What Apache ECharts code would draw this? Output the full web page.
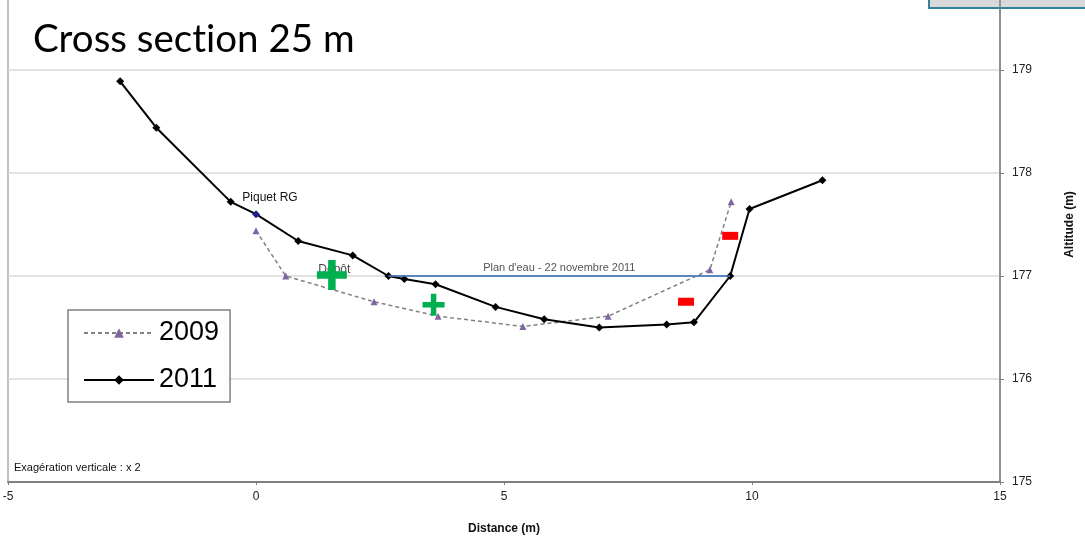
<!DOCTYPE html>
<html>
<head>
<meta charset="utf-8">
<script src="https://cdn.jsdelivr.net/npm/echarts@6/dist/echarts.min.js"></script>
<style>
  html, body { margin: 0; padding: 0; background: #fff; }
  #main { width: 1085px; height: 541px; }
</style>
</head>
<body>
<div id="main"></div>
<script>
// profil 2009 (distance m, altitude m)
var dist2009 = [0, 0.60, 2.38, 3.67, 5.38, 7.10, 9.15, 9.58];
var alt2009 = [177.44, 177.00, 176.75, 176.61, 176.51, 176.61, 177.06, 177.72];
// profil 2011
var dist2011 = [-2.74, -2.01, -0.51, 0, 0.85, 1.95, 2.67, 2.99, 3.62, 4.83, 5.81, 6.92, 8.28, 8.83, 9.56, 9.95, 11.42];
var alt2011 = [178.89, 178.44, 177.72, 177.60, 177.34, 177.20, 177.00, 176.97, 176.92, 176.70, 176.58, 176.50, 176.53, 176.55, 177.00, 177.65, 177.93];
var piquetIndex = 3; // Piquet RG
// plan d'eau
var waterLevel = 177.0;
var waterFrom = 2.67;
var waterTo = 9.56;
// dépôt (+) / érosion (-)
var depotPts = [[1.53, 177.01], [3.58, 176.72]];
var erosionPts = [[9.56, 177.39], [8.67, 176.75]];
var depotLabel = [1.58, 177.06];

var xTicks = { min: -5, max: 15, step: 5 };
var yTicks = { min: 175, max: 180, step: 1 };

function zip(xs, ys) {
    var res = [];
    for (var i = 0; i < xs.length; i++) res.push([xs[i], ys[i]]);
    return res;
}

var myChart = echarts.init(document.getElementById('main'));

var data2011 = zip(dist2011, alt2011).map(function (p, i) {
    if (i !== piquetIndex) return p;
    return {
        value: p,
        itemStyle: { color: '#1f1f8f' },
        label: {
            show: true, position: 'top', offset: [14, -2],
            formatter: 'Piquet RG', color: '#111', fontSize: 12,
            fontFamily: 'Liberation Sans'
        }
    };
});

var option = {
    animation: false,
    backgroundColor: '#fff',
    textStyle: { fontFamily: 'Liberation Sans' },
    grid: {
        left: 8, right: 85, top: -33, bottom: 59,
        outerBoundsMode: 'none',
        show: true, borderColor: '#808080', borderWidth: 1
    },
    legend: {
        orient: 'vertical',
        left: 68, top: 310,
        data: ['2009', '2011'],
        backgroundColor: '#fff',
        borderColor: '#808080', borderWidth: 1.5,
        padding: [8, 11, 7, 15],
        itemGap: 17,
        itemWidth: 70, itemHeight: 12,
        textStyle: { fontSize: 27, color: '#000', lineHeight: 30, fontFamily: 'Liberation Sans' }
    },
    graphic: [
        {
            type: 'text', left: 33, top: 20,
            style: { text: 'Cross sect\u200Cion 25 m', fontSize: 38.5, fill: '#000', fontFamily: 'Lato' }
        },
        {
            type: 'text', left: 14, top: 462,
            style: { text: 'Exagération verticale : x 2', fontSize: 11, fill: '#111', fontFamily: 'Liberation Sans' }
        },
        {
            type: 'rect', shape: { x: 929, y: -10, width: 170, height: 18 },
            style: { fill: '#d9d9d9', stroke: '#31849b', lineWidth: 2 }
        }
    ],
    xAxis: {
        type: 'value',
        min: xTicks.min, max: xTicks.max, interval: xTicks.step,
        name: 'Distance (m)', nameLocation: 'middle', nameGap: 41,
        nameTextStyle: { fontWeight: 'bold', fontSize: 12, color: '#111' },
        axisLine: { onZero: false, lineStyle: { color: '#808080', width: 2 } },
        axisTick: { show: true, length: 3, lineStyle: { color: '#808080' } },
        axisLabel: { fontSize: 12, color: '#222', margin: 9 },
        splitLine: { show: false }
    },
    yAxis: {
        type: 'value', position: 'right',
        min: yTicks.min, max: yTicks.max, interval: yTicks.step,
        name: 'Altitude (m)', nameLocation: 'middle', nameGap: 64, nameRotate: 90,
        nameTextStyle: { fontWeight: 'bold', fontSize: 12, color: '#111' },
        axisLine: { show: true, onZero: false, lineStyle: { color: '#808080', width: 1.5 } },
        axisTick: { show: true, length: 4, lineStyle: { color: '#808080' } },
        axisLabel: { fontSize: 12, color: '#222', margin: 12 },
        splitLine: { show: true, lineStyle: { color: '#d9d9d9', width: 1.5 } }
    },
    series: [
        {
            name: 'Plan d\'eau',
            type: 'line',
            data: [[waterFrom, waterLevel], [waterTo, waterLevel]],
            showSymbol: false,
            lineStyle: { color: '#4f81bd', width: 1.5 },
            markLine: {
                silent: true, symbol: 'none',
                lineStyle: { color: '#4f81bd', width: 1.5, type: 'solid' },
                label: {
                    show: true, position: 'middle', formatter: 'Plan d\'eau - 22 novembre 2011',
                    color: '#555', fontSize: 11, distance: 3
                },
                data: [[{ coord: [waterFrom, waterLevel] }, { coord: [waterTo, waterLevel] }]]
            },
            z: 1
        },
        {
            name: '2009',
            type: 'line',
            data: zip(dist2009, alt2009),
            symbol: 'triangle', symbolSize: 7,
            itemStyle: { color: '#8064a2' },
            lineStyle: { color: '#808080', width: 1.5, type: [4, 3] },
            z: 2
        },
        {
            name: '2011',
            type: 'line',
            data: data2011,
            symbol: 'diamond', symbolSize: 8,
            itemStyle: { color: '#000' },
            lineStyle: { color: '#000', width: 2 },
            z: 3
        },
        {
            name: 'notes',
            type: 'scatter',
            data: [depotLabel],
            symbolSize: 0,
            label: { show: true, position: 'inside', formatter: 'Dépôt', fontSize: 12, color: '#111' },
            z: 4
        },
        {
            name: 'depot',
            type: 'scatter',
            data: depotPts,
            symbol: 'path://M3,0H5V3H8V5H5V8H3V5H0V3H3Z',
            symbolSize: function (v, p) { return p.dataIndex === 0 ? 30 : 22; },
            itemStyle: { color: '#00b050', opacity: 1 },
            z: 5
        },
        {
            name: 'erosion',
            type: 'scatter',
            data: erosionPts,
            symbol: 'rect', symbolSize: [16, 8],
            itemStyle: { color: '#ff0000', opacity: 1 },
            z: 5
        }
    ]
};
myChart.setOption(option);
</script>
</body>
</html>
